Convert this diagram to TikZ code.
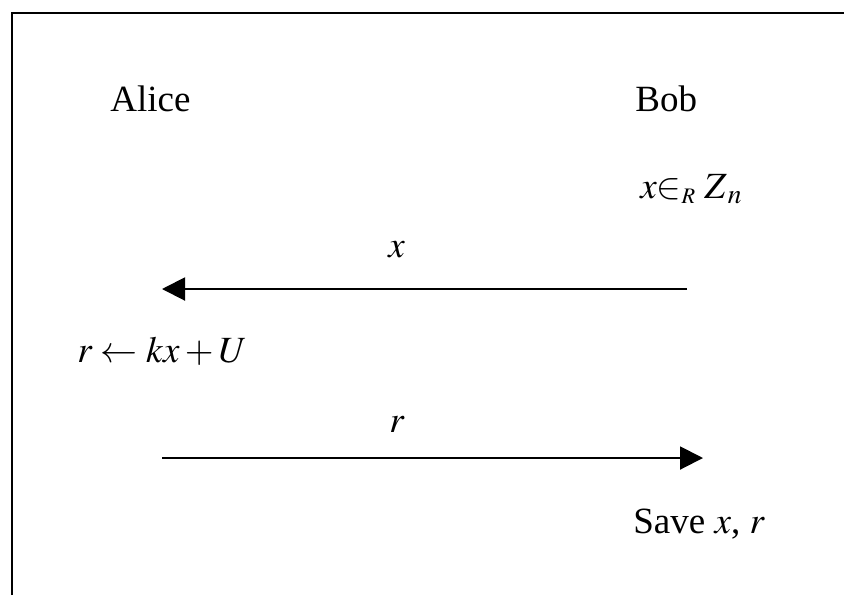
\documentclass[tikz,border=0pt]{standalone}
\usepackage{mathptmx}
\usepackage{fontspec}
\setmainfont{Liberation Serif}
\usepackage{tikz}
\usetikzlibrary{arrows.meta, positioning}

\begin{document}
\begin{tikzpicture}[
  x=0.5pt, y=-0.5pt,
  txt/.style={anchor=base west, inner sep=0pt, font=\fontsize{18.5}{22}\selectfont},
  msg/.style={-{Triangle[length=11.5pt, width=11.5pt]}, line width=1pt},
  frame/.style={line width=1pt},
]
\useasboundingbox (0,0) rectangle (844,595);

% Frame (only left and top edges are in view)
\draw[frame] (12,595) -- (12,13) -- (844,13);

% Parties
\node[txt] (alice) at (110,111) {Alice};
\node[txt] (bob)   at (635,111) {Bob};

% Bob picks x
\node[txt] (pick) at (640,198) {$x{\in}_{\scriptscriptstyle R}\;Z_{\,n}$};

% Message x : Bob -> Alice
\coordinate (bobsend)   at (687,289);
\coordinate (alicerecv) at (162,289);
\draw[msg] (bobsend) -- (alicerecv);
\node[txt] (xlabel) at (388,257) {$x$};

% Alice computes r
\node[txt] (resp) at (77,362) {$r \leftarrow kx + U$};

% Message r : Alice -> Bob
\coordinate (alicesend) at (162,458);
\coordinate (bobrecv)   at (703,458);
\draw[msg] (alicesend) -- (bobrecv);
\node[txt] (rlabel) at (389,432) {$r$};

% Bob stores
\node[txt] (save) at (633,533) {Save $x$, $r$};

\end{tikzpicture}
\end{document}
